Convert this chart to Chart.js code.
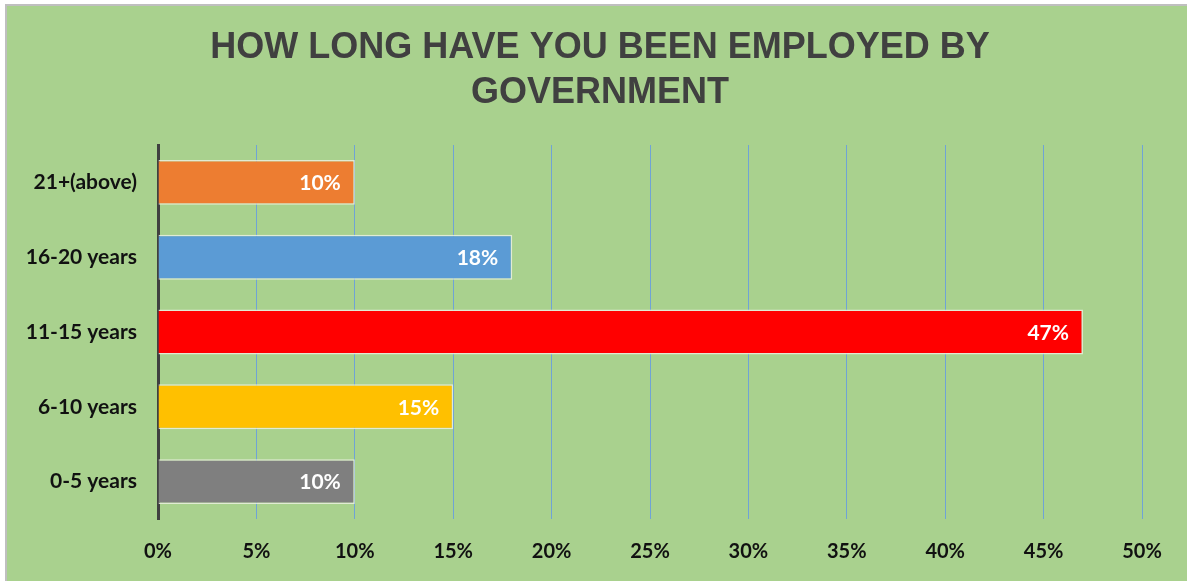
<!DOCTYPE html>
<html>
<head>
<meta charset="utf-8">
<title>How long have you been employed by government</title>
<script src="https://cdn.jsdelivr.net/npm/chart.js@4/dist/chart.umd.min.js"></script>
<style>
  html, body { margin: 0; padding: 0; background: #fff; }
  #wrap { position: relative; width: 1187px; height: 581px; }
</style>
</head>
<body>
<div id="wrap"><canvas id="chart" width="1187" height="581"></canvas></div>
<script>
// ─── Data ────────────────────────────────────────────────────────────────
const categories = ['21+(above)', '16-20 years', '11-15 years', '6-10 years', '0-5 years'];
const shares = [10, 18, 47, 15, 10];
const barColors = ['#ed7d31', '#5b9bd5', '#ff0000', '#ffc000', '#7f7f7f'];
const xTicks = [0, 5, 10, 15, 20, 25, 30, 35, 40, 45, 50];
const titleLines = ['HOW LONG HAVE YOU BEEN EMPLOYED BY', 'GOVERNMENT'];

const LABEL_FONT = 'Lato, "Liberation Sans", sans-serif';

// ─── Panel background with grey left/top edge ────────────────────────────
const panelBg = {
  id: 'panelBg',
  beforeDraw(chart) {
    const { ctx, width, height } = chart;
    ctx.save();
    ctx.fillStyle = '#ffffff';
    ctx.fillRect(0, 0, width, height);
    ctx.fillStyle = '#bfbfbf';
    ctx.fillRect(5, 4, width - 5, height - 4);
    ctx.fillStyle = '#a9d18e';
    ctx.fillRect(7, 6, width - 7, height - 6);
    ctx.restore();
  }
};

// ─── Title, centred on the whole panel ───────────────────────────────────
const panelTitle = {
  id: 'panelTitle',
  afterDraw(chart) {
    const { ctx } = chart;
    ctx.save();
    ctx.font = 'bold 36px "Liberation Sans", Arial, sans-serif';
    ctx.fillStyle = '#404040';
    ctx.textAlign = 'center';
    ctx.textBaseline = 'middle';
    titleLines.forEach((line, i) => ctx.fillText(line, 600, 48 + i * 45));
    ctx.restore();
  }
};

// ─── Value labels inside bar ends ────────────────────────────────────────
const barValues = {
  id: 'barValues',
  afterDatasetsDraw(chart) {
    const { ctx } = chart;
    const meta = chart.getDatasetMeta(0);
    ctx.save();
    ctx.font = 'bold 21px ' + LABEL_FONT;
    ctx.fillStyle = '#ffffff';
    ctx.textAlign = 'right';
    ctx.textBaseline = 'middle';
    meta.data.forEach((bar, i) => {
      ctx.fillText(shares[i] + '%', bar.x - 14, bar.y + 1);
    });
    ctx.restore();
  }
};

new Chart(document.getElementById('chart'), {
  type: 'bar',
  data: {
    labels: categories,
    datasets: [{
      data: shares,
      backgroundColor: barColors,
      borderColor: 'rgba(235, 240, 225, 0.85)',
      borderWidth: 1.5,
      borderSkipped: 'start',
      categoryPercentage: 1,
      barPercentage: 0.6,
    }],
  },
  options: {
    indexAxis: 'y',
    responsive: false,
    animation: false,
    devicePixelRatio: 1,
    layout: { padding: { top: 145, right: 45, bottom: 0, left: 0 } },
    plugins: {
      legend: { display: false },
      tooltip: { enabled: false },
      title: { display: false },
    },
    scales: {
      x: {
        min: 0,
        max: 50,
        afterBuildTicks(scale) {
          scale.ticks = xTicks.map(v => ({ value: v }));
        },
        afterFit(scale) { scale.height = 62; },
        grid: { color: '#6fa3d6', lineWidth: 1, drawTicks: false },
        border: { display: false },
        ticks: {
          padding: 21,
          color: '#111111',
          font: { family: LABEL_FONT, size: 20, weight: 'bold' },
          callback: v => v + '%',
        },
      },
      y: {
        afterFit(scale) { scale.width = 158; },
        grid: { display: false, drawTicks: false },
        border: { display: true, color: '#404040', width: 3 },
        ticks: {
          padding: 21,
          color: '#111111',
          font: { family: LABEL_FONT, size: 21, weight: 'bold' },
        },
      },
    },
  },
  plugins: [panelBg, panelTitle, barValues],
});
</script>
</body>
</html>
